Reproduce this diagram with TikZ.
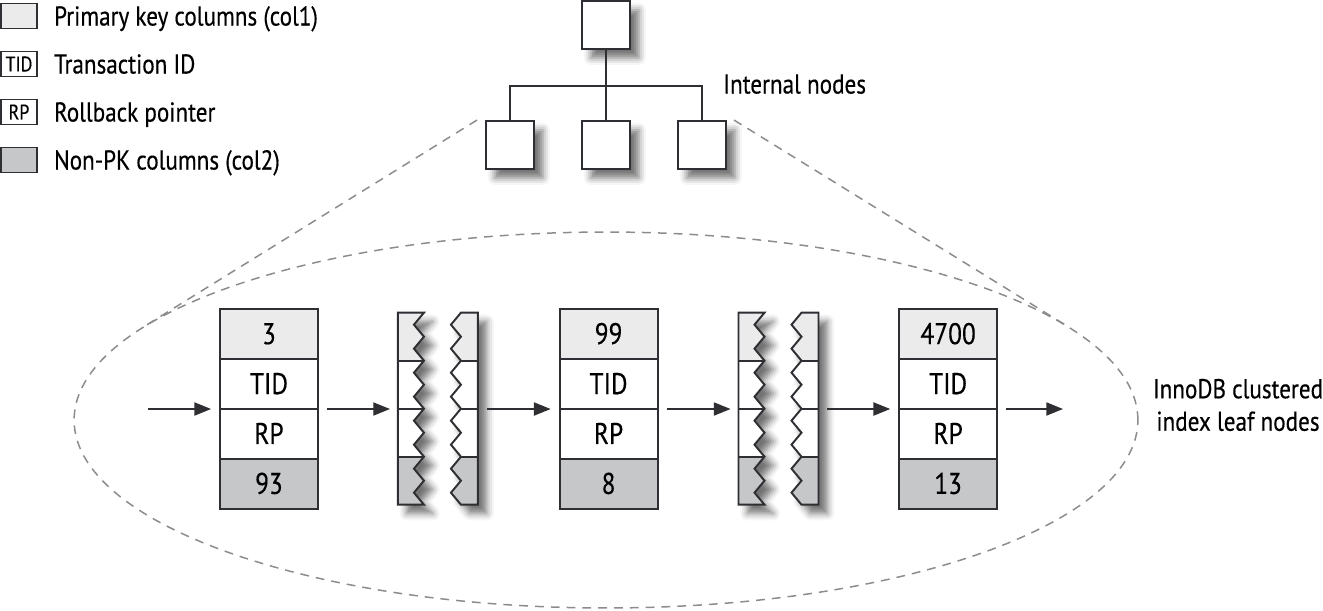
\documentclass[tikz,border=0pt]{standalone}
\usepackage{fontspec}
\setmainfont{PT Sans}[FakeStretch=0.85, FakeBold=0.4]
\usetikzlibrary{positioning,shapes.multipart,shadows.blur,arrows.meta,backgrounds}

\definecolor{edge}{HTML}{2E2E33}
\definecolor{pkfill}{HTML}{EBEBEB}
\definecolor{npkfill}{HTML}{C6C7C9}
\definecolor{dashgray}{HTML}{8C8C8C}

\newcommand\textsz{\fontsize{15.5}{18.5}\selectfont}
\newcommand\cellsz{\fontsize{17}{20}\selectfont}
\newcommand\keysz{\fontsize{12}{14}\selectfont}
\newcommand\cell[1]{\rule[-0.28cm]{0pt}{0.96cm}#1}

\tikzset{
  pageshadow/.style={blur shadow={shadow xshift=5pt, shadow yshift=-5pt,
      shadow blur radius=4pt, shadow opacity=55}},
  box/.style={draw=edge, line width=1.1pt, fill=white, minimum size=0.96cm,
      inner sep=0pt, pageshadow},
  leafpage/.style={rectangle split, rectangle split parts=4, draw=edge,
      line width=1.1pt, minimum width=1.96cm, inner xsep=0pt, inner ysep=0pt,
      rectangle split part fill={pkfill,white,white,npkfill}, font=\cellsz},
  gap/.style={minimum width=1.6cm, minimum height=3.84cm, inner sep=0pt},
  link/.style={draw=edge, line width=0.8pt, -{Triangle[length=9.5pt,width=7.5pt]},
      shorten <=0.16cm, shorten >=0.16cm},
  tree/.style={draw=edge, line width=0.9pt},
  hint/.style={draw=dashgray, line width=0.85pt, dash pattern=on 5pt off 4pt},
  keybox/.style={draw=edge, line width=0.9pt, minimum width=0.72cm,
      minimum height=0.5cm, inner sep=0pt, font=\keysz},
  keytext/.style={inner sep=0pt, text height=0.38cm, text depth=0pt, font=\textsz},
  tag/.style={inner sep=0pt, font=\textsz, align=center}
}

% torn page: two ragged pieces inside the gap node #1
\def\leftpiece{(0,0) -- (26,0)
  \foreach \k in {0,...,7} {-- (16,{24*\k+12}) -- (26,{24*\k+24})} -- (0,192) -- cycle}
\def\rightpiece{(80,0) -- (80,192) -- (63,192)
  \foreach \k in {7,...,0} {-- (53,{24*\k+12}) -- (63,{24*\k})} -- cycle}
\newcommand\tornpage[1]{%
  \begin{scope}[shift={(#1.north west)}]
    \path[pageshadow, fill=white] \leftpiece \rightpiece;
    \begin{scope}
      \clip \leftpiece \rightpiece;
      \fill[pkfill] (0,0) rectangle (80,48);
      \fill[npkfill] (0,144) rectangle (80,192);
    \end{scope}
    \foreach \r in {48,96,144} {
      \draw[edge, line width=1.1pt] (0,\r) -- (26,\r);
      \draw[edge, line width=1.1pt] (63,\r) -- (80,\r);
    }
    \draw[edge, line width=1.1pt, line join=miter] \leftpiece \rightpiece;
  \end{scope}}

\begin{document}
\begin{tikzpicture}[x=0.02cm, y=-0.02cm]
  \useasboundingbox (0,0) rectangle (1323,610);

  % legend
  \node[keybox, fill=pkfill] (kpk) at (19,16) {};
  \node[keytext, right=0.32cm of kpk] (tpk) {Primary key columns (col1)};
  \node[keybox] (ktid) at (19,64) {TID};
  \node[keytext, right=0.32cm of ktid] (ttid) {Transaction ID};
  \node[keybox] (krp) at (19,112) {RP};
  \node[keytext, right=0.32cm of krp] (trp) {Rollback pointer};
  \node[keybox, fill=npkfill] (knpk) at (19,160) {};
  \node[keytext, right=0.32cm of knpk] (tnpk) {Non-PK columns (col2)};

  % internal nodes
  \node[box] (root) at (606,25) {};
  \node[box] (in1) at (510,145) {};
  \node[box] (in2) at (606,145) {};
  \node[box] (in3) at (702,145) {};
  \draw[tree] (root.south) -- ++(0,36) -| (in1.north);
  \draw[tree] (root.south) -- (in2.north);
  \draw[tree] (root.south) -- ++(0,36) -| (in3.north);
  \node[keytext, anchor=west] (intlbl) at (723,84) {Internal nodes};

  % zoom onto the leaf level
  \draw[hint] (606,420) ellipse [x radius=10.64cm, y radius=3.76cm];
  \coordinate (tl) at (145,326);
  \coordinate (tr) at (1067,326);
  \draw[hint] ([xshift=-0.16cm]in1.north west) -- (tl);
  \draw[hint] ([xshift=0.14cm]in3.north east) -- (tr);

  % leaf pages
  \node[leafpage] (leaf1) at (269,409)
    {\cell{3}\nodepart{two}\cell{TID}\nodepart{three}\cell{RP}\nodepart{four}\cell{93}};
  \node[gap, right=1.58cm of leaf1] (brk1) {};
  \node[leafpage, right=1.6cm of brk1] (leaf2)
    {\cell{99}\nodepart{two}\cell{TID}\nodepart{three}\cell{RP}\nodepart{four}\cell{8}};
  \node[gap, right=1.6cm of leaf2] (brk2) {};
  \node[leafpage, right=1.58cm of brk2] (leaf3)
    {\cell{4700}\nodepart{two}\cell{TID}\nodepart{three}\cell{RP}\nodepart{four}\cell{13}};
  \begin{scope}[on background layer]
    \foreach \p in {leaf1,leaf2,leaf3}
      \path[pageshadow, fill=white] (\p.north west) rectangle (\p.south east);
  \end{scope}
  \tornpage{brk1}
  \tornpage{brk2}

  \coordinate (entry) at (148,409);
  \coordinate (exit) at (1063,409);
  \draw[link, shorten <=0pt] (entry) -- (leaf1);
  \draw[link] (leaf1) -- (brk1);
  \draw[link] (brk1) -- (leaf2);
  \draw[link] (leaf2) -- (brk2);
  \draw[link] (brk2) -- (leaf3);
  \draw[link, shorten >=0pt] (leaf3) -- (exit);

  \node[tag] (leaflbl) at (1238,405) {InnoDB clustered\\index leaf nodes};
\end{tikzpicture}
\end{document}
